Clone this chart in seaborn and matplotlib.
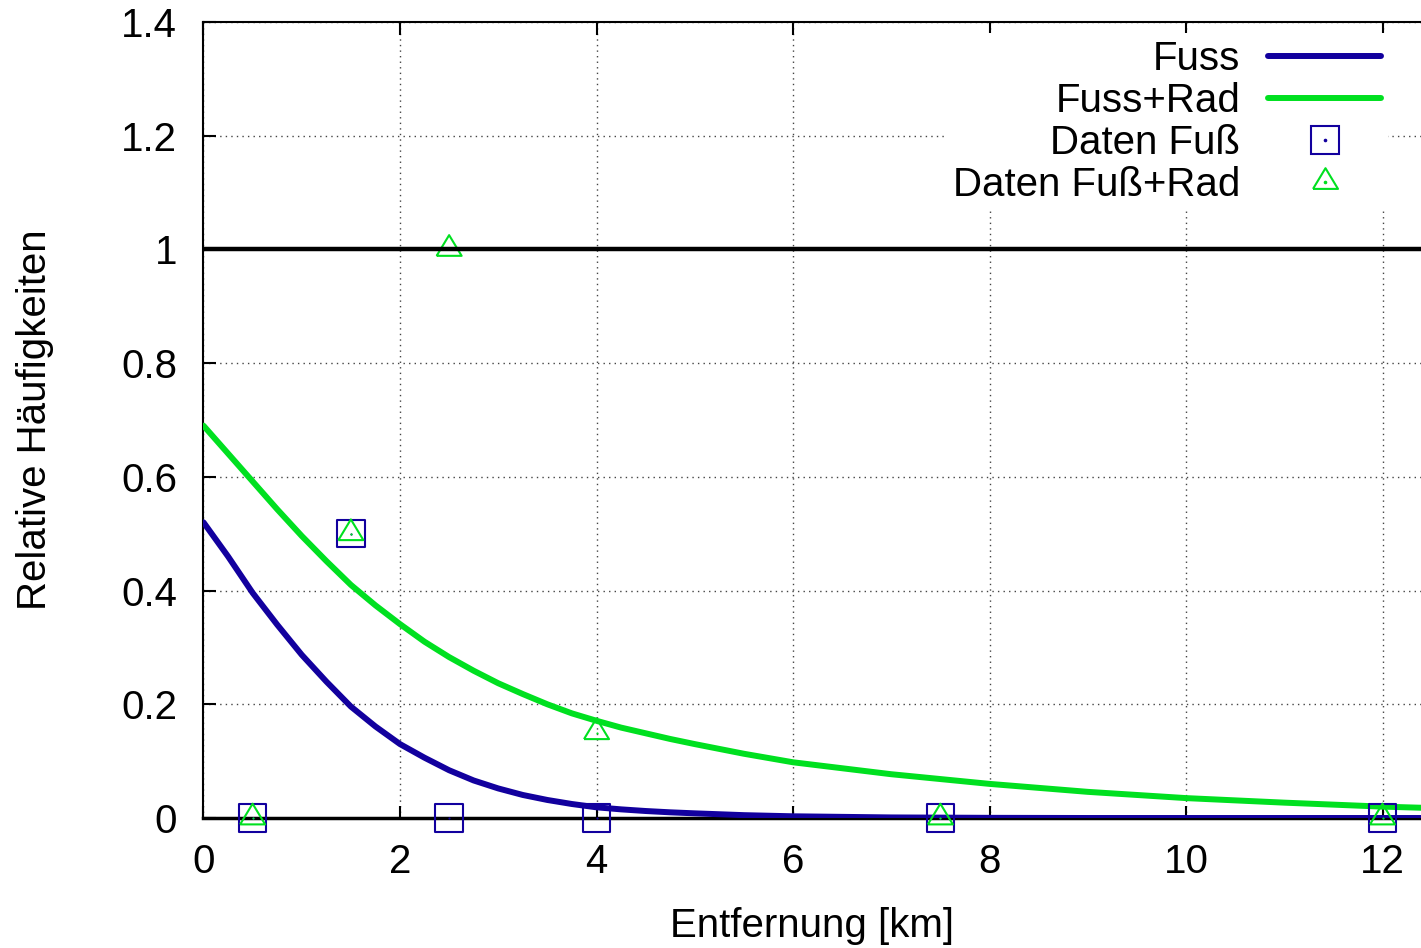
import numpy as np
import matplotlib
matplotlib.use("Agg")
import matplotlib.pyplot as plt
import seaborn as sns
from matplotlib.lines import Line2D

# curves
x_curve = [0, 0.25, 0.5, 0.75, 1, 1.25, 1.5, 1.75, 2, 2.25, 2.5, 2.75, 3, 3.25,
           3.5, 3.75, 4, 4.25, 4.5, 4.75, 5, 5.5, 6, 7, 8, 9, 10, 11, 12, 12.4]
fuss = [0.52, 0.46, 0.396, 0.34, 0.287, 0.24, 0.196, 0.161, 0.13, 0.106, 0.084,
        0.066, 0.052, 0.0405, 0.0317, 0.0246, 0.0188, 0.0152, 0.0123, 0.01, 0.0082,
        0.005, 0.003, 0.001, 0.0003, 0, 0, 0, 0, 0]
fuss_rad = [0.69, 0.641, 0.592, 0.543, 0.496, 0.452, 0.41, 0.374, 0.341, 0.31, 0.283,
            0.259, 0.237, 0.218, 0.2, 0.184, 0.171, 0.159, 0.149, 0.139, 0.13,
            0.113, 0.098, 0.077, 0.06, 0.046, 0.035, 0.027, 0.02, 0.018]

# measured data
x_data = [0.5, 1.5, 2.5, 4, 7.5, 12]
daten_fuss = [0, 0.5, 0, 0, 0, 0]
daten_fuss_rad = [0, 0.5, 1.0, 0.15, 0, 0]

x_ticks = [0, 2, 4, 6, 8, 10, 12]
y_ticks = [0, 0.2, 0.4, 0.6, 0.8, 1.0, 1.2, 1.4]
y_ticklabels = ["0", "0.2", "0.4", "0.6", "0.8", "1", "1.2", "1.4"]

blue = "#12009e"
green = "#00e020"

sns.set_style("ticks", {"axes.edgecolor": "black", "text.color": "black",
                        "axes.labelcolor": "black", "xtick.color": "black",
                        "ytick.color": "black"})
plt.rcParams["font.family"] = ["Liberation Sans", "DejaVu Sans"]
plt.rcParams["font.size"] = 29

fig = plt.figure(figsize=(14.21, 9.48), dpi=100)
ax = fig.add_axes([203.5 / 1421, 1 - 818 / 948, 1 - 203.5 / 1421, (818 - 22) / 948])

sns.lineplot(x=x_curve, y=fuss, color=blue, lw=4.3, ax=ax, zorder=3)
sns.lineplot(x=x_curve, y=fuss_rad, color=green, lw=4.3, ax=ax, zorder=3)

# gnuplot-like triangle: dot sits low inside
tri = [(-12.5, -6.4), (12.5, -6.4), (0, 14.3), (-12.5, -6.4)]
sns.scatterplot(x=x_data, y=daten_fuss, marker="s", s=19.7 ** 2, facecolor="none",
                edgecolor=blue, linewidth=1.5, ax=ax, zorder=4, clip_on=False)
sns.scatterplot(x=x_data, y=daten_fuss, marker="o", s=2.5, color=blue,
                linewidth=0, ax=ax, zorder=4, clip_on=False)
sns.scatterplot(x=x_data, y=daten_fuss_rad, marker=tri, s=20.6 ** 2, facecolor="none",
                edgecolor=green, linewidth=1.5, ax=ax, zorder=5, clip_on=False)
sns.scatterplot(x=x_data, y=daten_fuss_rad, marker="o", s=2.5, color=green,
                linewidth=0, ax=ax, zorder=5, clip_on=False)

ax.axhline(1.0, color="black", lw=3.2, zorder=6)

ax.set_xlim(0, (1421 - 203.5) / 98.25)
ax.set_ylim(0, 1.4)
ax.set_xticks(x_ticks)
ax.set_xticklabels([str(t) for t in x_ticks])
ax.set_yticks(y_ticks)
ax.set_yticklabels(y_ticklabels)
ax.tick_params(direction="in", length=9, width=1.5, top=True, pad=18, labelsize=29,
               colors="black")
ax.tick_params(axis="y", pad=19)
ax.grid(True, color="#444444", lw=1.0, linestyle=(0, (1, 3)))
ax.set_axisbelow(True)
for side in ["left", "top"]:
    ax.spines[side].set_linewidth(1.5)
ax.spines["bottom"].set_linewidth(2.5)
ax.spines["right"].set_visible(False)

ax.set_xlabel("Entfernung [km]", fontsize=29, labelpad=19, color="black")
ax.set_ylabel("Relative Häufigkeiten", fontsize=29, labelpad=48, color="black")

handles = [
    Line2D([], [], color=blue, lw=4.3),
    Line2D([], [], color=green, lw=4.3),
    (Line2D([], [], ls="none", marker="s", ms=19.7, mfc="none", mec=blue, mew=1.5),
     Line2D([], [], ls="none", marker="o", ms=1.6, color=blue)),
    (Line2D([], [], ls="none", marker=tri, ms=20.6, mfc="none", mec=green, mew=1.5),
     Line2D([], [], ls="none", marker="o", ms=1.6, color=green)),
]
labels = ["Fuss", "Fuss+Rad", "Daten Fuß", "Daten Fuß+Rad"]
leg = ax.legend(handles, labels, loc="upper right", markerfirst=False,
                bbox_to_anchor=(1388 / 1421, 1 - 33 / 948), bbox_transform=fig.transFigure,
                borderaxespad=0, borderpad=0.17, handlelength=2.8, handletextpad=0.7,
                labelspacing=0.1, fontsize=29, frameon=True, fancybox=False,
                labelcolor="black")
leg.get_frame().set_facecolor("white")
leg.get_frame().set_edgecolor("none")
leg.get_frame().set_alpha(1)
leg.set_zorder(2.4)

fig.savefig("out.png", dpi=100)
